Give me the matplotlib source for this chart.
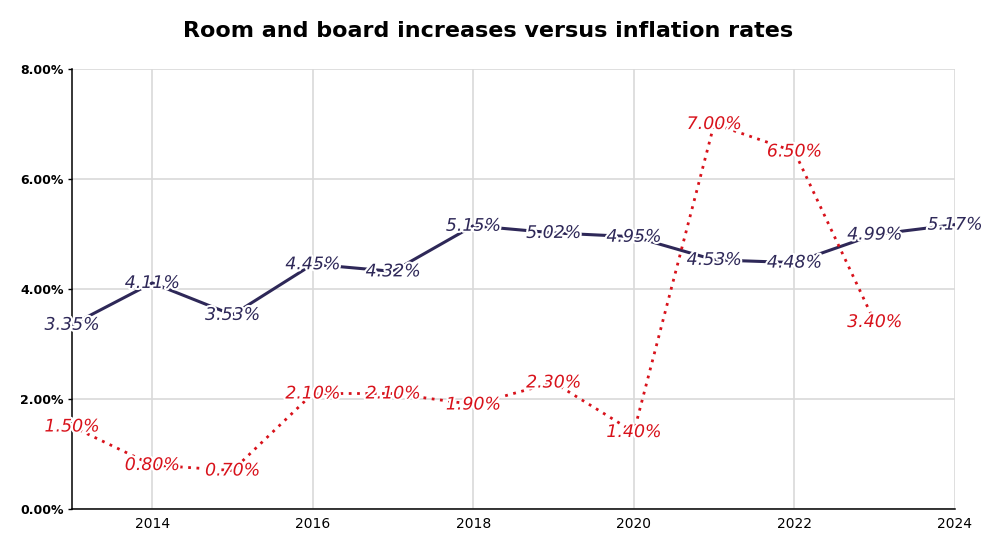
import matplotlib
matplotlib.use("Agg")
import matplotlib.pyplot as plt
import matplotlib.patheffects as pe
from matplotlib.ticker import FuncFormatter

years_rb = [2013, 2014, 2015, 2016, 2017, 2018, 2019, 2020, 2021, 2022, 2023, 2024]
room_board = [3.35, 4.11, 3.53, 4.45, 4.32, 5.15, 5.02, 4.95, 4.53, 4.48, 4.99, 5.17]
years_inf = [2013, 2014, 2015, 2016, 2017, 2018, 2019, 2020, 2021, 2022, 2023]
inflation = [1.50, 0.80, 0.70, 2.10, 2.10, 1.90, 2.30, 1.40, 7.00, 6.50, 3.40]
x_ticks = [2014, 2016, 2018, 2020, 2022, 2024]
y_ticks = [0, 2, 4, 6, 8]

navy = "#2e2858"
red = "#d8121b"

fig = plt.figure(figsize=(9.85, 5.51), dpi=100)
ax = fig.add_axes([0.0731, 0.0762, 0.8964, 0.7986])

ax.plot(years_rb, room_board, color=navy, linewidth=2.2, solid_capstyle="round", zorder=3)
ax.plot(years_inf, inflation, color=red, linewidth=2.0, linestyle=(0, (1, 2)), zorder=3)

# labels sit on the points, white halo hides the line behind the glyphs
halo = [pe.withStroke(linewidth=3, foreground="white")]
for x, y in zip(years_rb, room_board):
    ax.text(x, y, "%.2f%%" % y, color=navy, fontsize=12.5, style="italic",
            ha="center", va="center", path_effects=halo, zorder=4)
for x, y in zip(years_inf, inflation):
    ax.text(x, y, "%.2f%%" % y, color=red, fontsize=12.5, style="italic",
            ha="center", va="center", path_effects=halo, zorder=4)

ax.set_xlim(2013, 2024)
ax.set_ylim(0, 8)
ax.set_xticks(x_ticks)
ax.set_yticks(y_ticks)
ax.yaxis.set_major_formatter(FuncFormatter(lambda v, p: "%.2f%%" % v))
ax.tick_params(axis="y", labelsize=9, length=3, width=1, pad=3)
ax.tick_params(axis="x", labelsize=10, length=0, pad=6)
for lbl in ax.get_yticklabels():
    lbl.set_fontweight("bold")

ax.grid(True, color="#d9d9d9", linewidth=1.2, zorder=0)
ax.set_axisbelow(True)
ax.spines["top"].set_visible(False)
ax.spines["right"].set_visible(False)
ax.spines["left"].set_color("black")
ax.spines["bottom"].set_color("black")
ax.spines["left"].set_linewidth(1.1)
ax.spines["bottom"].set_linewidth(1.1)

fig.suptitle("Room and board increases versus inflation rates", fontsize=16,
             fontweight="bold", x=0.495, y=0.962)

fig.savefig("out.png", dpi=100)
